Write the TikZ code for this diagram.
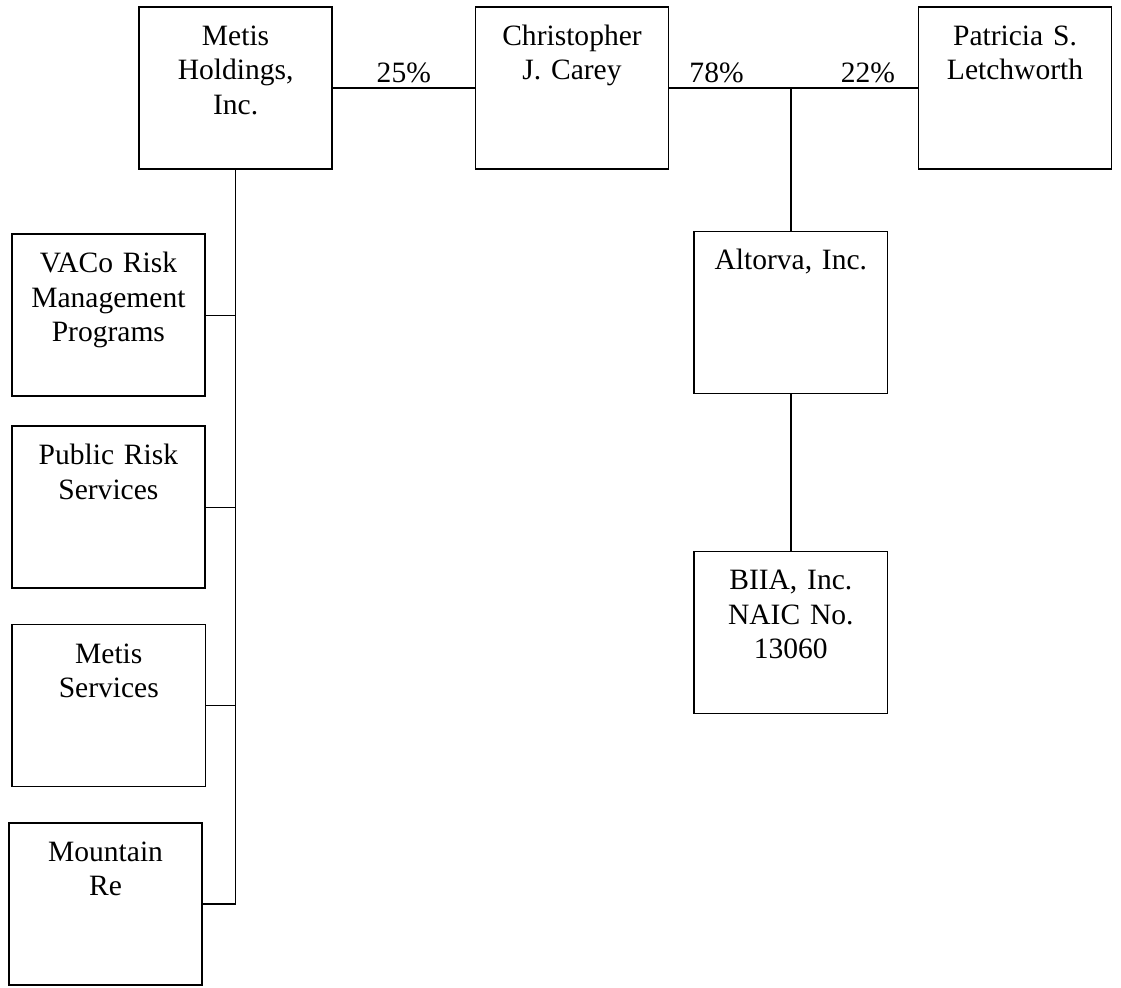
\documentclass[tikz,border=0pt]{standalone}
\usepackage{fontspec}
\setmainfont{Liberation Serif}
\usetikzlibrary{positioning}

\begin{document}
\begin{tikzpicture}[
    orgbox/.style={draw, line width=1.1pt, inner sep=0pt, text width=4.83cm, align=center, font=\fontsize{21}{24.5}\selectfont, text height=0.96cm, text depth=3.09cm},
    link/.style={line width=1pt},
    pct/.style={font=\fontsize{21}{24.5}\selectfont}
]
\useasboundingbox (0,0) rectangle (28.025,-24.675);

\node[orgbox] (metis) at (5.89,-2.2) {Metis\\ Holdings,\\ Inc.};
\node[orgbox] (carey) at (14.3,-2.2) {Christopher\\ J. Carey};
\node[orgbox] (letch) at (25.375,-2.2) {Patricia S.\\ Letchworth};

\node[orgbox] (vaco) at (2.71,-7.88) {VACo Risk\\ Management\\ Programs};
\node[orgbox] (pubrisk) at (2.71,-12.68) {Public Risk\\ Services};
\node[orgbox] (metsvc) at (2.72,-17.64) {Metis\\ Services};
\node[orgbox] (mtnre) at (2.64,-22.6) {Mountain\\ Re};

\node[orgbox] (altorva) at (19.77,-7.81) {Altorva, Inc.};
\node[orgbox] (biia) at (19.77,-15.81) {BIIA, Inc.\\ NAIC No.\\ 13060};

\draw[link] (metis.east) -- node[pct, above] (pctMetis) {25\%} (carey.west);
\draw[link] (carey.east) -- node[pct, above, pos=0.19] (pctCarey) {78\%}
    node[pct, above, pos=0.8] (pctLetch) {22\%} (letch.west);
\draw[link] (altorva.north) -- (altorva.north |- carey.east);
\draw[link] (altorva.south) -- (biia.north);

\draw[link] (metis.south) |- (mtnre.east);
\foreach \kid in {vaco, pubrisk, metsvc}
    \draw[link] (\kid.east) -- (\kid.east -| metis.south);
\end{tikzpicture}
\end{document}
